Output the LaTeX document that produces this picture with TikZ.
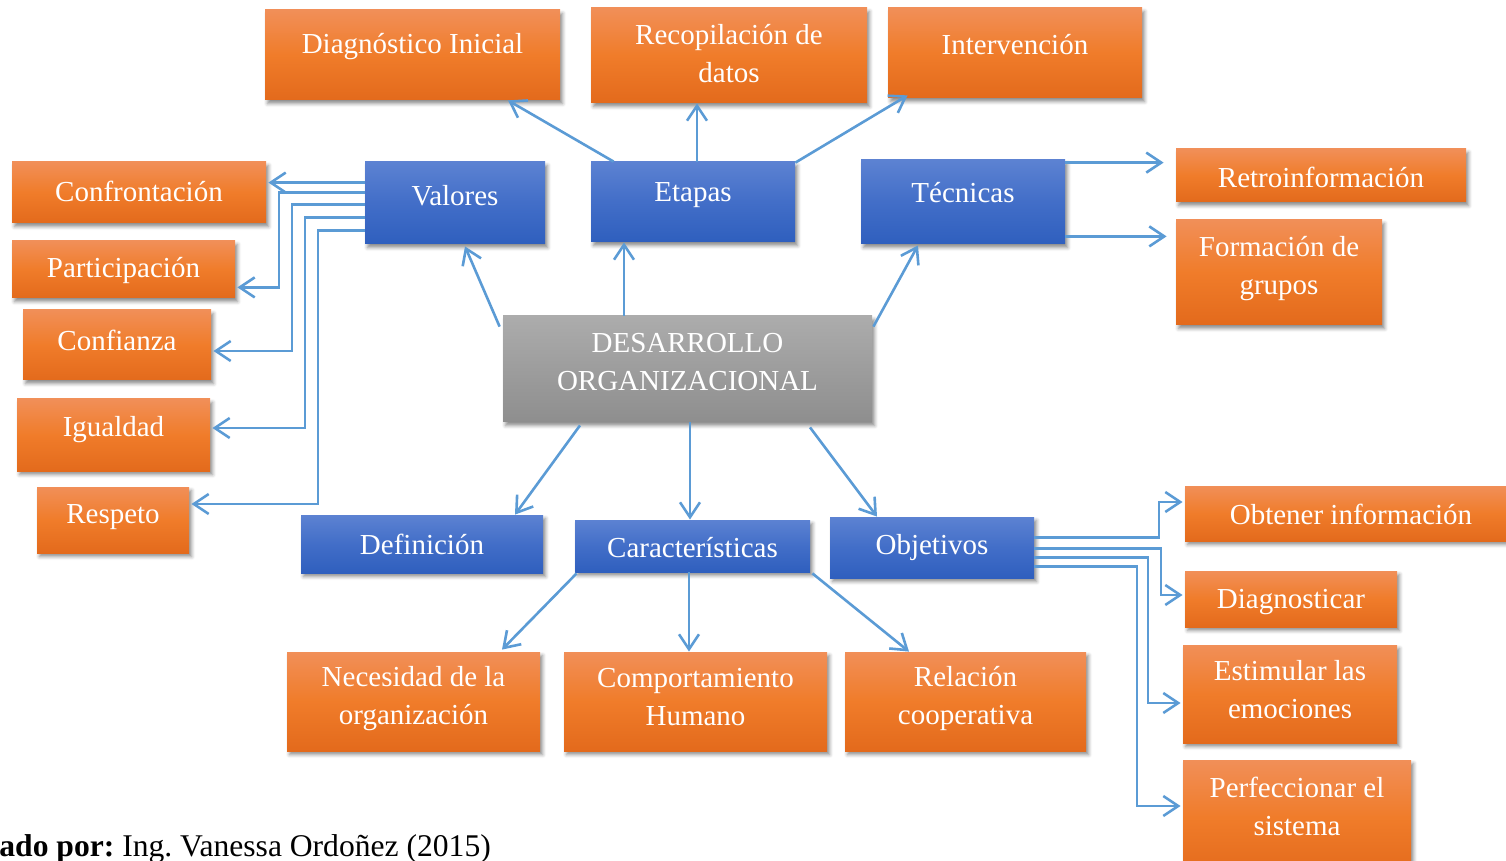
\documentclass[tikz,border=0pt]{standalone}
\usepackage{fontspec}
\setmainfont{Liberation Serif}
\usetikzlibrary{arrows.meta,fit,shadows.blur}

\definecolor{orT}{RGB}{241,143,88}
\definecolor{orM}{RGB}{240,124,42}
\definecolor{orB}{RGB}{227,106,28}
\definecolor{blT}{RGB}{92,130,210}
\definecolor{blM}{RGB}{66,110,200}
\definecolor{blB}{RGB}{47,95,190}
\definecolor{grT}{RGB}{172,172,172}
\definecolor{grB}{RGB}{142,142,142}
\definecolor{link}{RGB}{91,155,213}

\tikzset{
  boxbase/.style={inner sep=0pt, draw=none,
    blur shadow={shadow xshift=1.3pt, shadow yshift=-1.8pt,
                 shadow blur radius=1.8pt, shadow opacity=45}},
  obox/.style={boxbase, top color=orT, bottom color=orB, middle color=orM},
  bbox/.style={boxbase, top color=blT, bottom color=blB, middle color=blM},
  gbox/.style={boxbase, top color=grT, bottom color=grB},
  txt/.style={text=white, inner sep=0pt, align=center,
    font=\fontsize{14.5}{19}\selectfont},
  arr/.style={draw=link, line width=1.3pt,
    -{Straight Barb[length=7.5pt,width=10pt,line width=1.3pt]}},
}

% box: style, name, x1, y1, x2, y2, text centre y, text
\newcommand\cbox[8]{%
  \node[#1, fit={(#3,#4) (#5,#6)}] (#2) {};
  \node[txt] (#2-t) at ({(#3+#5)/2},#7) {#8};
}

\begin{document}
\begin{tikzpicture}[x=0.5pt,y=-0.5pt]
\useasboundingbox (0,0) rectangle (1506,861);

% centre
\cbox{gbox}{ctr}{503}{316}{872}{422}{362}{DESARROLLO\\ORGANIZACIONAL}

% first level
\cbox{bbox}{val}{365}{162}{545}{244}{196}{Valores}
\cbox{bbox}{eta}{591}{162}{795}{242}{195}{Etapas}
\cbox{bbox}{tec}{861}{160}{1065}{244}{193}{Técnicas}
\cbox{bbox}{def}{301}{515}{543}{573}{544}{Definición}
\cbox{bbox}{car}{575}{520}{810}{572}{548}{Características}
\cbox{bbox}{obj}{830}{517}{1034}{578}{548}{Objetivos}

% etapas
\cbox{obox}{diag}{265}{10}{560}{100}{47}{Diagnóstico Inicial}
\cbox{obox}{reco}{591}{8}{867}{103}{54}{Recopilación de\\datos}
\cbox{obox}{inter}{888}{8}{1142}{98}{45}{Intervención}

% técnicas
\cbox{obox}{retro}{1176}{149}{1466}{202}{177}{Retroinformación}
\cbox{obox}{form}{1176}{220}{1382}{325}{269}{Formación de\\grupos}

% valores
\cbox{obox}{conf}{12}{162}{266}{223}{191}{Confrontación}
\cbox{obox}{part}{12}{241}{235}{298}{271}{Participación}
\cbox{obox}{confi}{23}{310}{211}{380}{340}{Confianza}
\cbox{obox}{igual}{17}{399}{210}{471}{430}{Igualdad}
\cbox{obox}{resp}{37}{487}{189}{553}{517}{Respeto}

% características
\cbox{obox}{nec}{287}{652}{540}{751}{699}{Necesidad de la\\organización}
\cbox{obox}{comp}{564}{652}{827}{751}{697}{Comportamiento\\Humano}
\cbox{obox}{rel}{845}{652}{1086}{751}{699}{Relación\\cooperativa}

% objetivos
\cbox{obox}{obt}{1185}{486}{1517}{541}{514}{Obtener información}
\cbox{obox}{dgn}{1185}{571}{1397}{627}{602}{Diagnosticar}
\cbox{obox}{est}{1183}{645}{1397}{743}{690}{Estimular las\\emociones}
\cbox{obox}{perf}{1183}{760}{1411}{875}{806}{Perfeccionar el\\sistema}

% centre to first level
\draw[arr] ([shift={(-3,11)}]ctr.north west) -- ([shift={(10,2)}]val.south);
\draw[arr] (624,0 |- ctr.north) -- (624,0 |- eta.south);
\draw[arr] ([shift={(1,11)}]ctr.north east) -- ([shift={(-45,1)}]tec.south);
\draw[arr] ([shift={(-107.5,3)}]ctr.south) -- ([shift={(93,0)}]def.north);
\draw[arr] (690,0 |- ctr.south) -- (690,0 |- car.north);
\draw[arr] ([shift={(122.5,5)}]ctr.south) -- ([shift={(-55,0)}]obj.north);

% etapas
\draw[arr] ([shift={(23,0)}]eta.north west) -- ([shift={(95.5,0)}]diag.south);
\draw[arr] (697,0 |- eta.north) -- (697,0 |- reco.south);
\draw[arr] ([shift={(0,1)}]eta.north east) -- ([shift={(20,-3)}]inter.south west);

% técnicas
\coordinate (t1) at ([shift={(0,3)}]tec.north east);
\coordinate (t2) at ([shift={(0,-8)}]tec.south east);
\draw[arr, shorten >=6pt] (t1) -- (t1 -| retro.west);
\draw[arr, shorten >=4.5pt] (t2) -- (t2 -| form.west);

% características
\draw[arr] ([shift={(2,1)}]car.south west) -- ([shift={(88.5,-2)}]nec.north);
\draw[arr] (689,0 |- car.south) -- (689,0 |- comp.north);
\draw[arr] ([shift={(2,1)}]car.south east) -- ([shift={(-56.5,0)}]rel.north);

% valores
\coordinate (v1) at ([shift={(0,21)}]val.north west);
\coordinate (v2) at ([shift={(0,31)}]val.north west);
\coordinate (v3) at ([shift={(0,43)}]val.north west);
\coordinate (v4) at ([shift={(0,56)}]val.north west);
\coordinate (v5) at ([shift={(0,69)}]val.north west);
\draw[arr, shorten >=1pt] (v1) -- (v1 -| conf.east);
\draw[arr, shorten >=1pt] (v2) -- (279,0 |- v2) |- ([shift={(0,-11)}]part.south east);
\draw[arr, shorten >=1pt] (v3) -- (292,0 |- v3) |- ([shift={(0,6)}]confi.east);
\draw[arr, shorten >=1pt] (v4) -- (305,0 |- v4) |- ([shift={(0,-7)}]igual.east);
\draw[arr, shorten >=1pt] (v5) -- (318,0 |- v5) |- ([shift={(0,-16)}]resp.east);

% objetivos
\coordinate (o1) at ([shift={(0,21)}]obj.north east);
\coordinate (o2) at ([shift={(0,32)}]obj.north east);
\coordinate (o3) at ([shift={(0,41)}]obj.north east);
\coordinate (o4) at ([shift={(0,50)}]obj.north east);
\draw[arr, shorten >=1pt] (o1) -- (1159,0 |- o1) |- ([shift={(0,-11.5)}]obt.west);
\draw[arr, shorten >=1pt] (o2) -- (1161,0 |- o2) |- ([shift={(0,-4)}]dgn.west);
\draw[arr, shorten >=1pt] (o3) -- (1148,0 |- o3) |- ([shift={(0,9)}]est.west);
\draw[arr, shorten >=1pt] (o4) -- (1137,0 |- o4) |- ([shift={(0,-11.5)}]perf.west);

% source line
\node[anchor=base west, inner sep=0pt, font=\fontsize{15.8}{18}\selectfont] (src)
  at (-1,856) {\frenchspacing\textbf{ado por:} Ing. Vanessa Ordoñez (2015)};
\end{tikzpicture}
\end{document}
